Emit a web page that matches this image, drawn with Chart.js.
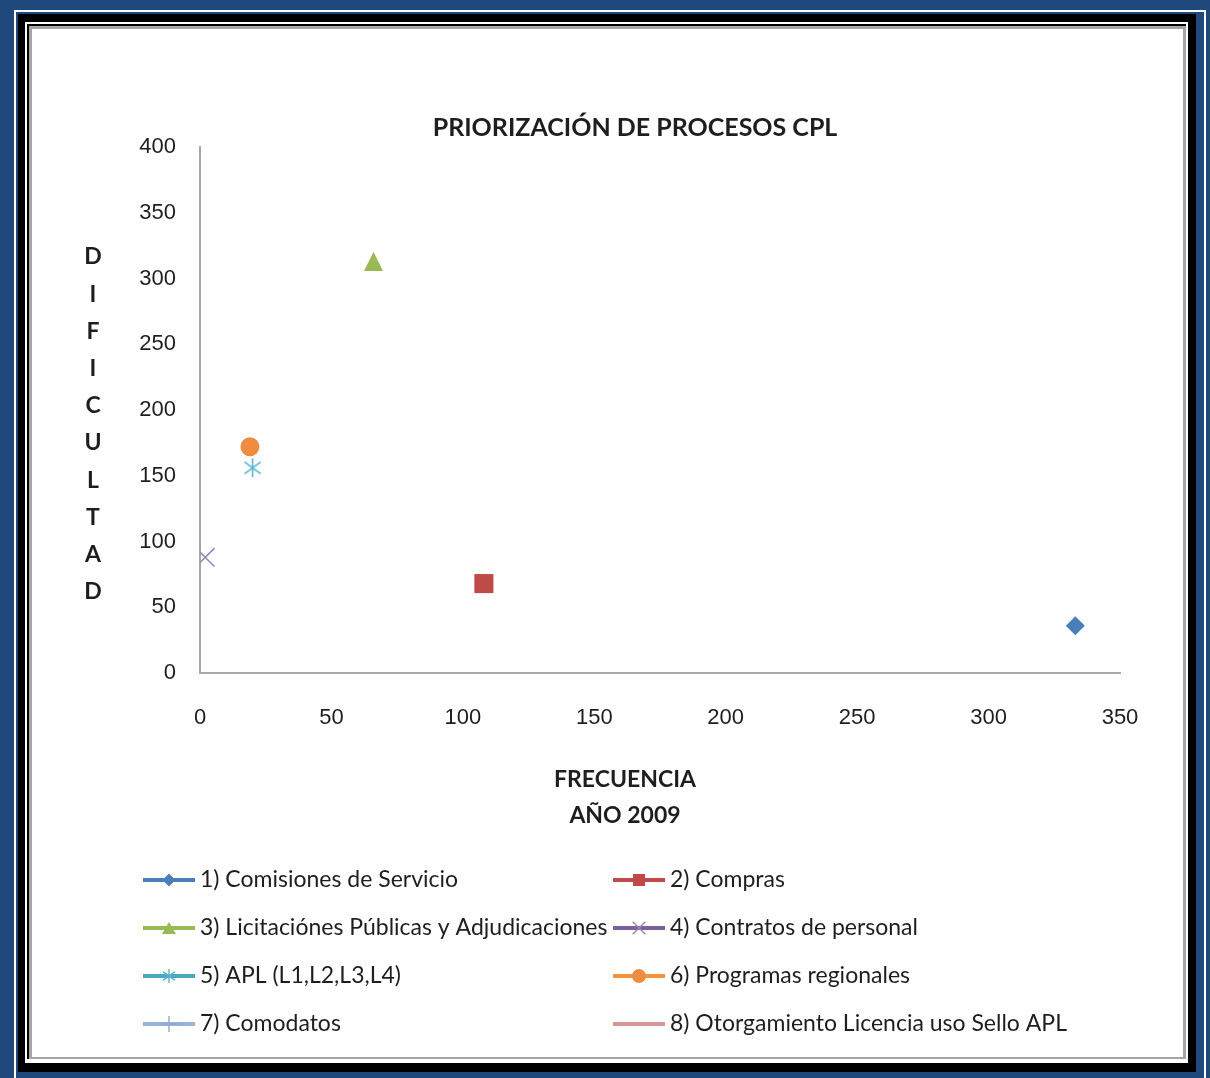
<!DOCTYPE html>
<html>
<head>
<meta charset="utf-8">
<script src="https://cdn.jsdelivr.net/npm/chart.js@4/dist/chart.umd.min.js"></script>
<style>
  html, body { margin: 0; padding: 0; background: #1F497D; }
  #page { position: relative; width: 1210px; height: 1078px; overflow: hidden; background: #1F497D; }
  .f { position: absolute; }
  canvas { position: absolute; left: 0; top: 0; }
</style>
</head>
<body>
<div id="page">
  <!-- layered picture frame -->
  <div class="f" style="left:14px;top:10px;width:1192px;height:1080px;background:#ffffff"></div>
  <div class="f" style="left:16px;top:12px;width:1188px;height:1070px;background:#1F497D"></div>
  <div class="f" style="left:18px;top:14px;width:1178px;height:1058px;background:#000000"></div>
  <div class="f" style="left:25px;top:22px;width:1163px;height:1041px;background:#ffffff"></div>
  <div class="f" style="left:27px;top:24px;width:1159px;height:1035px;background:#000000"></div>
  <div class="f" style="left:29px;top:26px;width:1157px;height:1033px;background:#A5A5A5"></div>
  <div class="f" style="left:32px;top:29px;width:1151px;height:1028px;background:#ffffff"></div>
  <canvas id="c" width="1210" height="1078"></canvas>
</div>
<script>
// ---- data ----
const seriesNames = [
  '1) Comisiones de Servicio',
  '2) Compras',
  '3) Licitaciónes Públicas y Adjudicaciones',
  '4) Contratos de personal',
  '5) APL (L1,L2,L3,L4)',
  '6) Programas regionales',
  '7) Comodatos',
  '8) Otorgamiento Licencia uso Sello APL'
];
const frecuencia = [333, 108, 66, 2, 20, 19, null, null];
const dificultad = [36, 68, 313, 88, 156, 172, null, null];
const xTickValues = [0, 50, 100, 150, 200, 250, 300, 350];
const yTickValues = [0, 50, 100, 150, 200, 250, 300, 350, 400];
const chartTitle = 'PRIORIZACIÓN DE PROCESOS CPL';
const xAxisTitle = ['FRECUENCIA', 'AÑO 2009'];
const yAxisTitle = 'DIFICULTAD';

// ---- styles per series ----
const lineColors   = ['#4A7EBB', '#BE4B48', '#98B954', '#7D60A0', '#46AAC5', '#F69240', '#95B3D7', '#D99694'];
const markerColors = ['#4A7EBB', '#BE4B48', '#98B954', '#9A86BA', '#5BB5CF', '#EE8D3F', '#8EA8D2', '#D99694'];

const SANS = '"Lato", "Open Sans", sans-serif';
const TEXT = '#1e1e1e';

// Small sprite markers (triangle and six-armed asterisk) drawn once on offscreen canvases.
function triangleSprite(w, h, color) {
  const c = document.createElement('canvas');
  c.width = w; c.height = h;
  const g = c.getContext('2d');
  g.fillStyle = color;
  g.beginPath();
  g.moveTo(w / 2, 0);
  g.lineTo(w, h);
  g.lineTo(0, h);
  g.closePath();
  g.fill();
  return c;
}
function asteriskSprite(s, color, lw) {
  const c = document.createElement('canvas');
  c.width = s; c.height = s;
  const g = c.getContext('2d');
  const m = s / 2, r = s / 2 - 1;
  g.strokeStyle = color;
  g.lineWidth = lw;
  g.beginPath();
  g.moveTo(m, m - r); g.lineTo(m, m + r);
  g.moveTo(m - r * 0.85, m - r * 0.62); g.lineTo(m + r * 0.85, m + r * 0.62);
  g.moveTo(m - r * 0.85, m + r * 0.62); g.lineTo(m + r * 0.85, m - r * 0.62);
  g.stroke();
  return c;
}

const plotMarkers = [
  'rectRot', 'rect', triangleSprite(19, 19, markerColors[2]), 'crossRot',
  asteriskSprite(21, markerColors[4], 1.6), 'circle', 'cross', false
];
const legendMarkers = [
  'rectRot', 'rect', triangleSprite(14, 12, markerColors[2]), 'crossRot',
  asteriskSprite(16, markerColors[4], 1.4), 'circle', 'cross', false
];
const markerRadius = [9.5, 13.5, 10, 13, 10, 9.5, 9, 0];
const legendRadius = [6.5, 8.5, 7, 9, 8, 7, 8, 0];
const strokeMarkers = ['crossRot', 'cross'];

const datasets = seriesNames.map((name, i) => {
  const stroke = strokeMarkers.includes(plotMarkers[i]);
  return {
    label: name,
    data: frecuencia[i] === null ? [] : [{ x: frecuencia[i], y: dificultad[i] }],
    pointStyle: plotMarkers[i],
    pointRadius: markerRadius[i],
    pointHoverRadius: markerRadius[i],
    backgroundColor: markerColors[i],
    borderColor: markerColors[i],
    pointBackgroundColor: markerColors[i],
    pointBorderColor: markerColors[i],
    pointBorderWidth: stroke ? 1.6 : 0,
    showLine: false
  };
});

// Legend drawn as two columns: thick series line with its marker, then the name.
const legendPlugin = {
  id: 'twoColLegend',
  afterDraw(chart) {
    const ctx = chart.ctx;
    const colX = [143, 613];
    const rowY0 = 880, rowStep = 48, sampleLen = 52;
    const drawPoint = Chart.helpers && Chart.helpers.drawPoint;
    ctx.save();
    chart.data.datasets.forEach((ds, i) => {
      const x0 = colX[i % 2];
      const y = rowY0 + Math.floor(i / 2) * rowStep;
      ctx.strokeStyle = lineColors[i];
      ctx.lineWidth = 4;
      ctx.lineCap = 'butt';
      ctx.beginPath();
      ctx.moveTo(x0, y);
      ctx.lineTo(x0 + sampleLen, y);
      ctx.stroke();
      const mk = legendMarkers[i];
      const cx = x0 + sampleLen / 2;
      if (mk && typeof mk !== 'string') {
        ctx.drawImage(mk, cx - mk.width / 2, y - mk.height / 2);
      } else if (mk && drawPoint) {
        const stroke = strokeMarkers.includes(mk);
        ctx.fillStyle = markerColors[i];
        ctx.strokeStyle = markerColors[i];
        ctx.lineWidth = stroke ? 1.4 : 0;
        drawPoint(ctx, { pointStyle: mk, radius: legendRadius[i], rotation: 0, borderWidth: stroke ? 1.4 : 0 }, cx, y);
      }
      ctx.fillStyle = TEXT;
      ctx.font = '23px ' + SANS;
      ctx.textAlign = 'left';
      ctx.textBaseline = 'middle';
      ctx.fillText(ds.label, x0 + sampleLen + 5, y);
    });
    ctx.restore();
  }
};

// Chart title and axis titles: stacked letters on the left, two centred lines below the x axis.
const titlesPlugin = {
  id: 'chartTitles',
  afterDraw(chart) {
    const ctx = chart.ctx;
    ctx.save();
    ctx.fillStyle = TEXT;
    ctx.textAlign = 'center';
    ctx.textBaseline = 'middle';
    ctx.font = 'bold 25px ' + SANS;
    ctx.fillText(chartTitle, 635, 128);
    ctx.font = 'bold 23px ' + SANS;
    yAxisTitle.split('').forEach((ch, k) => ctx.fillText(ch, 93, 257 + k * 37.2));
    xAxisTitle.forEach((line, k) => ctx.fillText(line, 625, 780 + k * 36));
    ctx.restore();
  }
};

new Chart(document.getElementById('c'), {
  type: 'scatter',
  data: { datasets },
  plugins: [legendPlugin, titlesPlugin],
  options: {
    responsive: false,
    animation: false,
    devicePixelRatio: 1,
    layout: { padding: { left: 0, top: 147, right: 90, bottom: 314.6 } },
    plugins: {
      legend: { display: false },
      tooltip: { enabled: false },
      title: { display: false }
    },
    scales: {
      x: {
        type: 'linear',
        min: xTickValues[0],
        max: xTickValues[xTickValues.length - 1],
        afterBuildTicks(scale) { scale.ticks = xTickValues.map(v => ({ value: v })); },
        grid: { display: false, drawTicks: false },
        border: { display: true, color: '#A8A8A8', width: 2 },
        ticks: {
          padding: 32,
          color: TEXT,
          font: { family: '"Liberation Sans", Arial, sans-serif', size: 22, lineHeight: 1.2 }
        }
      },
      y: {
        type: 'linear',
        min: yTickValues[0],
        max: yTickValues[yTickValues.length - 1],
        afterBuildTicks(scale) { scale.ticks = yTickValues.map(v => ({ value: v })); },
        afterFit(scale) { scale.width = 200; },
        grid: { display: false, drawTicks: false },
        border: { display: true, color: '#A8A8A8', width: 2 },
        ticks: {
          padding: 24,
          color: TEXT,
          font: { family: '"Liberation Sans", Arial, sans-serif', size: 22, lineHeight: 1.2 }
        }
      }
    }
  }
});
</script>
</body>
</html>
